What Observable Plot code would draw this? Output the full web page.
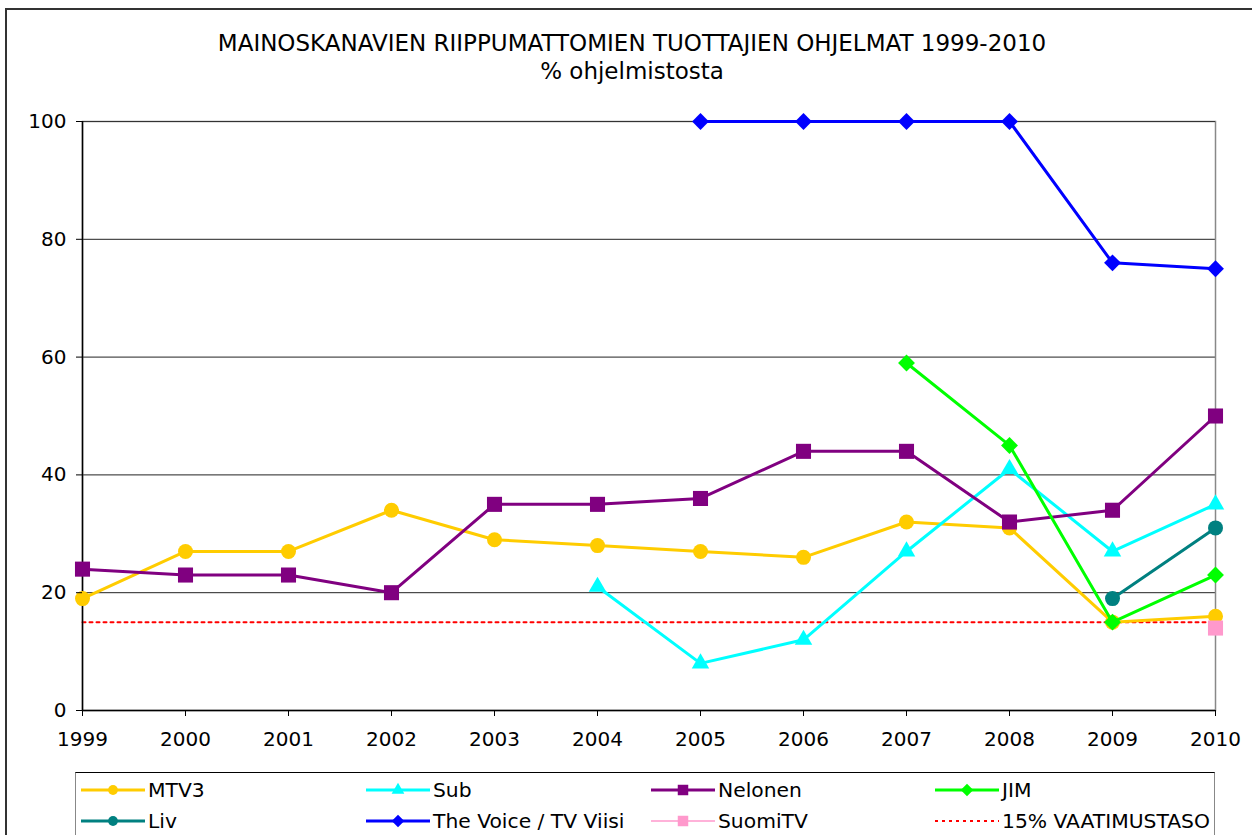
<!DOCTYPE html>
<html>
<head>
<meta charset="utf-8">
<script src="https://cdn.jsdelivr.net/npm/d3@7"></script>
<script src="https://cdn.jsdelivr.net/npm/@observablehq/plot@0.6"></script>
<style>
  html, body { margin: 0; padding: 0; background: #fff; overflow: hidden; }
  #wrap { position: relative; width: 1252px; height: 835px; overflow: hidden; font-family: "DejaVu Sans", Verdana, sans-serif; color: #000; }
  #outer { position: absolute; left: 5px; top: 8px; width: 1400px; height: 1000px; border: 2px solid #333; box-sizing: border-box; }
  .title { position: absolute; left: 0; width: 1264px; text-align: center; font-size: 23px; line-height: 23px; white-space: nowrap; }
  #chart { position: absolute; left: 0; top: 0; }
  #legend { position: absolute; left: 75px; top: 772px; width: 1140px; height: 100px; border-top: 1.5px solid #000; border-left: 1.5px solid #888; border-right: 1.5px solid #888; box-sizing: border-box; }
  .li { position: absolute; display: flex; align-items: center; font-size: 20.3px; white-space: nowrap; }
</style>
</head>
<body>
<div id="wrap">
  <div id="outer"></div>
  <div class="title" id="t1" style="top:32px"></div>
  <div class="title" id="t2" style="top:60px"></div>
  <div id="chart"></div>
  <div id="legend"></div>
</div>
<script>
const titleText = "MAINOSKANAVIEN RIIPPUMATTOMIEN TUOTTAJIEN OHJELMAT 1999-2010";
const subtitleText = "% ohjelmistosta";

const years = [1999, 2000, 2001, 2002, 2003, 2004, 2005, 2006, 2007, 2008, 2009, 2010];
const yTicks = [0, 20, 40, 60, 80, 100];

const seriesNames = ["MTV3", "Sub", "Nelonen", "JIM", "Liv", "The Voice / TV Viisi", "SuomiTV", "15% VAATIMUSTASO"];
const mtv3    = [19, 27, 27, 34, 29, 28, 27, 26, 32, 31, 15, 16];
const sub     = [null, null, null, null, null, 21, 8, 12, 27, 41, 27, 35];
const nelonen = [24, 23, 23, 20, 35, 35, 36, 44, 44, 32, 34, 50];
const jim     = [null, null, null, null, null, null, null, null, 59, 45, 15, 23];
const liv     = [null, null, null, null, null, null, null, null, null, null, 19, 31];
const voice   = [null, null, null, null, null, null, 100, 100, 100, 100, 76, 75];
const suomiTV = [null, null, null, null, null, null, null, null, null, null, null, 14];
const vaatimus = [15, 15, 15, 15, 15, 15, 15, 15, 15, 15, 15, 15];

const seriesValues = [mtv3, sub, nelonen, jim, liv, voice, suomiTV, vaatimus];
const seriesColors = ["#FFCC00", "#00FFFF", "#800080", "#00FF00", "#008080", "#0000FF", "#FF99CC", "#FF0000"];
const seriesSymbols = ["circle", "triangle", "square", "diamond2", "circle", "diamond2", "square", null];
const seriesR = [7.5, 6.5, 8.5, 7.6, 7.5, 7.6, 8.5, 0];
const seriesWidth = [3, 3, 3, 3, 3, 3, 1.5, 2];

document.getElementById("t1").textContent = titleText;
document.getElementById("t2").textContent = subtitleText;

const rowsFor = (vals, name) => years.map((yr, i) => ({year: yr, value: vals[i], name})).filter(d => d.value != null);

const marks = [];
marks.push(Plot.line(rowsFor(vaatimus, seriesNames[7]), {x: "year", y: "value", stroke: seriesColors[7], strokeWidth: 2, strokeDasharray: "3,4"}));
marks.push(Plot.gridY(yTicks.filter(t => t > 0 && t < 100), {stroke: "#222", strokeOpacity: 1, strokeWidth: 1}));
marks.push(Plot.frame({stroke: "#888", strokeWidth: 1.5}));
marks.push(Plot.ruleY([100], {stroke: "#333", strokeWidth: 1}));
marks.push(Plot.ruleX([years[0]], {stroke: "#000", strokeWidth: 1.5}));
marks.push(Plot.ruleY([0], {stroke: "#000", strokeWidth: 1.5}));
for (let s = 0; s < 7; s++) {
  const rows = rowsFor(seriesValues[s], seriesNames[s]);
  marks.push(Plot.line(rows, {x: "year", y: "value", stroke: seriesColors[s], strokeWidth: seriesWidth[s]}));
  marks.push(Plot.dot(rows, {x: "year", y: "value", fill: seriesColors[s], symbol: seriesSymbols[s], r: seriesR[s], stroke: "none"}));
}
marks.push(Plot.axisY({ticks: yTicks, tickSize: 6, tickPadding: 10, fontSize: 20, stroke: "#000", label: null}));
marks.push(Plot.axisX({ticks: years, tickFormat: d => String(d), tickSize: 6, tickPadding: 15, fontSize: 20, stroke: "#000", label: null}));

const chart = Plot.plot({
  width: 1252,
  height: 770,
  marginLeft: 82,
  marginRight: 37,
  marginTop: 121,
  marginBottom: 60,
  style: {fontFamily: "DejaVu Sans, Verdana, sans-serif", background: "transparent", color: "#000", overflow: "visible"},
  x: {domain: [years[0], years[years.length - 1]], label: null},
  y: {domain: [0, 100], label: null},
  marks
});
document.getElementById("chart").appendChild(chart);

// legend
const legend = d3.select("#legend");
const colX = [5, 290, 575, 859];
const rowY = [17, 48];
const legSymbols = {circle: d3.symbolCircle, triangle: d3.symbolTriangle, square: d3.symbolSquare, diamond2: d3.symbolDiamond2};
const legSize = [75, 70, 110, 100, 75, 100, 110, 0];
seriesNames.forEach((name, i) => {
  const col = i % 4, row = Math.floor(i / 4);
  const item = legend.append("div").attr("class", "li")
    .style("left", colX[col] + "px").style("top", (rowY[row] - 14) + "px").style("height", "28px");
  const svg = item.append("svg").attr("width", 64).attr("height", 28).style("margin-right", "3px");
  if (seriesSymbols[i]) {
    svg.append("line").attr("x1", 0).attr("x2", 64).attr("y1", 14).attr("y2", 14)
      .attr("stroke", seriesColors[i]).attr("stroke-width", seriesWidth[i]);
    svg.append("path").attr("transform", "translate(32,14)")
      .attr("d", d3.symbol(legSymbols[seriesSymbols[i]], legSize[i])()).attr("fill", seriesColors[i]);
  } else {
    svg.append("line").attr("x1", 0).attr("x2", 64).attr("y1", 14).attr("y2", 14)
      .attr("stroke", seriesColors[i]).attr("stroke-width", 2).attr("stroke-dasharray", "3,4");
  }
  item.append("span").text(name);
});
</script>
</body>
</html>
